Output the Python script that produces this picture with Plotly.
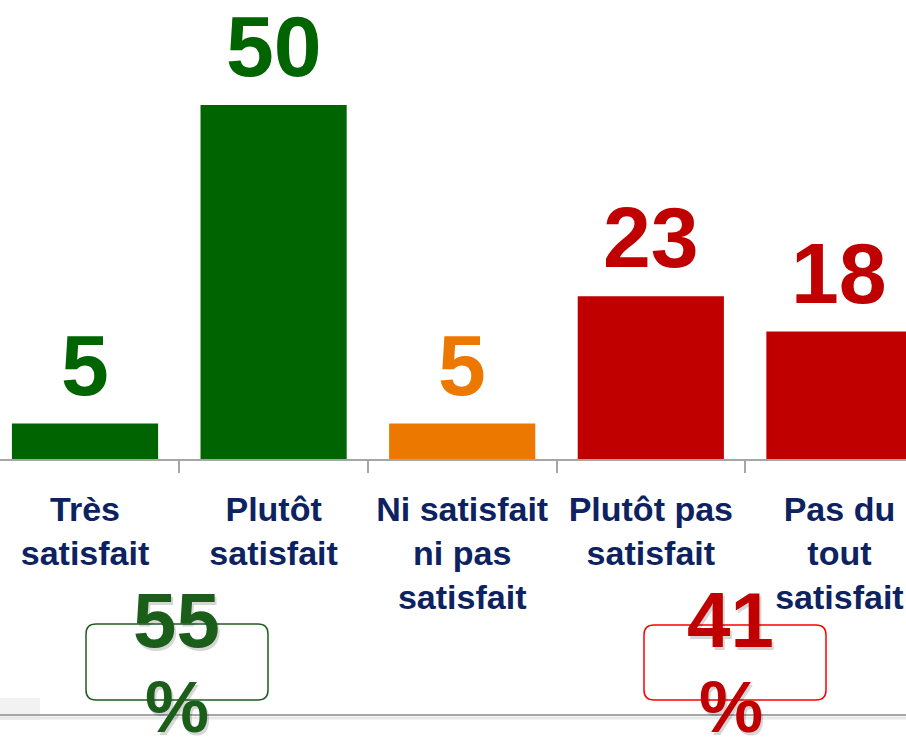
import plotly.graph_objects as go

categories = ["Très<br>satisfait", "Plutôt<br>satisfait", "Ni satisfait<br>ni pas<br>satisfait",
              "Plutôt pas<br>satisfait", "Pas du<br>tout<br>satisfait"]
values = [5, 50, 5, 23, 18]
bar_colors = ["#006400", "#006400", "#ED7800", "#C00000", "#C00000"]
total_satisfied = 55
total_unsatisfied = 41

fig = go.Figure()
fig.add_trace(go.Bar(
    x=categories, y=values,
    marker=dict(color=bar_colors, line=dict(width=0)),
    width=0.775, hoverinfo="skip",
))

W, H = 906, 741
ml, mr, mt, mb = 0, 0, 0, 282
ph = H - mt - mb

def py(p):
    return (H - mb - p) / ph

def pxx(p):
    return p / W

def rounded_rect(x0, y0, x1, y1, r, color):
    X0, X1 = pxx(x0), pxx(x1)
    Y0, Y1 = py(y0), py(y1)
    rx = r / W
    ry = r / ph
    path = (f"M {X0+rx},{Y0} L {X1-rx},{Y0} Q {X1},{Y0} {X1},{Y0-ry} "
            f"L {X1},{Y1+ry} Q {X1},{Y1} {X1-rx},{Y1} L {X0+rx},{Y1} "
            f"Q {X0},{Y1} {X0},{Y1+ry} L {X0},{Y0-ry} Q {X0},{Y0} {X0+rx},{Y0} Z")
    return dict(type="path", xref="paper", yref="paper", path=path,
                line=dict(color=color, width=1.5), fillcolor="rgba(0,0,0,0)")

shapes = [
    dict(type="rect", xref="paper", yref="paper",
         x0=0, x1=pxx(40), y0=py(720), y1=py(698),
         fillcolor="#F2F2F2", line=dict(width=0), layer="below"),
    dict(type="line", xref="paper", yref="paper", x0=0, x1=1,
         y0=py(718), y1=py(718), line=dict(color="#E8E8E8", width=3)),
    dict(type="line", xref="paper", yref="paper", x0=0, x1=1,
         y0=py(715), y1=py(715), line=dict(color="#A6A6A6", width=2)),
    rounded_rect(86, 624, 268, 700, 10, "#1E5E1E"),
    rounded_rect(644, 625, 826, 700, 10, "#FF0000"),
]

annotations = []
for cat, v, c in zip(categories, values, bar_colors):
    annotations.append(dict(
        x=cat, y=v, xref="x", yref="y", xanchor="center", yanchor="bottom",
        yshift=9, showarrow=False, text=f"<b>{v}</b>",
        font=dict(family="Liberation Sans", size=86, color=c),
    ))

for txt, cx, color in [(total_satisfied, 176, "#1A5E1A"), (total_unsatisfied, 730, "#C00000")]:
    for dx, dy, c in [(2, 3, "rgba(0,0,0,0.16)"), (0, 0, color)]:
        annotations.append(dict(
            xref="paper", yref="paper", x=pxx(cx + dx), y=py(574 + dy),
            xanchor="center", yanchor="top", showarrow=False,
            text=f"<b>{txt}</b>",
            font=dict(family="Liberation Sans", size=78, color=c),
        ))
        annotations.append(dict(
            xref="paper", yref="paper", x=pxx(cx + 1 + dx), y=py(665 + dy),
            xanchor="center", yanchor="top", showarrow=False,
            text="<b>%</b>",
            font=dict(family="Liberation Sans", size=72, color=c),
        ))

fig.update_layout(
    width=W, height=H, margin=dict(l=ml, r=mr, t=mt, b=mb),
    plot_bgcolor="white", paper_bgcolor="white", showlegend=False,
    xaxis=dict(type="category", range=[-0.4507, 4.353], tickmode="array",
               tickvals=categories,
               ticktext=[f"<b>{c}</b>" for c in categories],
               tickfont=dict(family="Liberation Sans", size=34, color="#0D2260"),
               showline=True, linecolor="#A6A6A6", linewidth=2,
               ticks="outside", tickson="boundaries", ticklen=12, tickcolor="#A6A6A6",
               tickwidth=2, showgrid=False, zeroline=False, ticklabelstandoff=19),
    yaxis=dict(range=[0, 459 / 7.08], visible=False, showgrid=False, zeroline=False),
    shapes=shapes, annotations=annotations,
)

fig.write_html("out.html", config={"displayModeBar": False},
               post_script="document.body.style.margin='0';")
